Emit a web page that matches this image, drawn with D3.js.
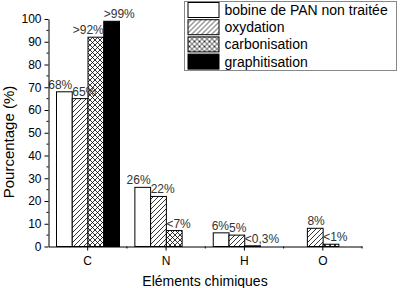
<!DOCTYPE html>
<html>
<head>
<meta charset="utf-8">
<script src="https://cdn.jsdelivr.net/npm/d3@7"></script>
<style>
  body { margin: 0; background: #fff; }
  text { font-family: "Liberation Sans", Arial, sans-serif; fill: #000; }
</style>
</head>
<body>
<script>
// elements on the x axis and the four treatment steps
const elements = ["C", "N", "H", "O"];
const steps = ["bobine de PAN non traitée", "oxydation", "carbonisation", "graphitisation"];

// percentages per step, one value per element
const pan   = [68, 26, 6, 0];
const oxy   = [65, 22, 5, 8];
const carbo = [92, 7, 0.3, 1];
const graph = [99, 0, 0, 0];

// labels written above the bars
const panLbl   = ["68%", "26%", "6%", ""];
const oxyLbl   = ["65%", "22%", "5%", "8%"];
const carboLbl = [">92%", "<7%", "<0,3%", "<1%"];
const graphLbl = [">99%", "", "", ""];

const yTicks = [0, 10, 20, 30, 40, 50, 60, 70, 80, 90, 100];

const width = 406, height = 288;
const series = [pan, oxy, carbo, graph];
const labels = [panLbl, oxyLbl, carboLbl, graphLbl];
const fills = ["#fff", "url(#hatch)", "url(#cross)", "#000"];

const svg = d3.select("body").append("svg").attr("width", width).attr("height", height);

const defs = svg.append("defs");
const hatch = defs.append("pattern").attr("id", "hatch")
    .attr("patternUnits", "userSpaceOnUse").attr("width", 5).attr("height", 5);
hatch.append("rect").attr("width", 5).attr("height", 5).attr("fill", "#fff");
hatch.append("path").attr("d", "M-1,1 l2,-2 M0,5 l5,-5 M4,6 l2,-2")
    .attr("stroke", "#000").attr("stroke-width", 0.8);

const cross = defs.append("pattern").attr("id", "cross")
    .attr("patternUnits", "userSpaceOnUse").attr("width", 5).attr("height", 5);
cross.append("rect").attr("width", 5).attr("height", 5).attr("fill", "#fff");
cross.append("path").attr("d", "M-1,1 l2,-2 M0,5 l5,-5 M4,6 l2,-2 M-1,4 l2,2 M0,0 l5,5 M4,-1 l2,2")
    .attr("stroke", "#000").attr("stroke-width", 0.8);

const x = d3.scaleBand().domain(elements).range([48.5, 362]);
const xs = d3.scaleBand().domain(d3.range(steps.length)).range([8, 71]);
const y = d3.scaleLinear().domain([0, 100]).range([246.5, 19]);

// bars
const rows = [];
series.forEach((vals, s) => vals.forEach((v, i) => rows.push({ s, i, el: elements[i], v, lbl: labels[s][i] })));

svg.append("g").selectAll("rect")
    .data(rows.filter(d => d.v > 0)).enter()
    .append("rect")
    .attr("x", d => x(d.el) + xs(d.s))
    .attr("y", d => y(d.v))
    .attr("width", xs.bandwidth())
    .attr("height", d => y(0) - y(d.v))
    .attr("fill", d => fills[d.s])
    .attr("stroke", "#000")
    .attr("stroke-width", 1);

// a label ends at the bar's right edge when the bar before it is not taller and
// (it is the first bar or a taller bar follows); otherwise it starts at the left edge
const endAnchored = d => {
    const prevTaller = d.s > 0 && series[d.s - 1][d.i] > d.v;
    const nextTaller = d.s < series.length - 1 && series[d.s + 1][d.i] > d.v;
    return !prevTaller && (d.s === 0 || nextTaller);
};

svg.append("g").selectAll("text")
    .data(rows.filter(d => d.lbl)).enter()
    .append("text")
    .attr("x", d => endAnchored(d) ? x(d.el) + xs(d.s) + xs.bandwidth() : x(d.el) + xs(d.s))
    .attr("y", d => y(d.v) - 3)
    .attr("text-anchor", d => endAnchored(d) ? "end" : "start")
    .attr("font-size", 12)
    .style("fill", "#333")
    .text(d => d.lbl);

// y axis
const yAxis = svg.append("g").attr("transform", "translate(48.5,0)")
    .call(d3.axisLeft(y).tickValues(yTicks).tickSize(4).tickPadding(3).tickSizeOuter(0));
yAxis.append("g").selectAll("line")
    .data(d3.range(5, 100, 10)).enter()
    .append("line").attr("x1", -2).attr("x2", 0)
    .attr("y1", d => y(d)).attr("y2", d => y(d)).attr("stroke", "#000");

// x axis
const xAxis = svg.append("g").attr("transform", "translate(0,246.5)")
    .call(d3.axisBottom(x).tickSize(4).tickPadding(6).tickSizeOuter(0));
xAxis.append("g").selectAll("line")
    .data(elements.slice(1).map(e => x(e)).concat([x.range()[1]])).enter()
    .append("line").attr("x1", d => d).attr("x2", d => d)
    .attr("y1", 0).attr("y2", 2).attr("stroke", "#000");

svg.selectAll(".tick text").attr("font-size", 12).attr("font-family", "Liberation Sans, Arial, sans-serif");
svg.selectAll(".domain").attr("stroke", "#000");

// axis titles
svg.append("text")
    .attr("x", 205).attr("y", 285.5)
    .attr("text-anchor", "middle").attr("font-size", 14)
    .text("Eléments chimiques");

svg.append("text")
    .attr("transform", "translate(14,142) rotate(-90)")
    .attr("text-anchor", "middle").attr("font-size", 15)
    .text("Pourcentage (%)");

// legend
const legend = svg.append("g").attr("transform", "translate(184.5,1.5)");
legend.append("rect").attr("width", 212).attr("height", 69)
    .attr("fill", "#fff").attr("stroke", "#888");
steps.forEach((name, s) => {
    legend.append("rect")
        .attr("x", 3.5).attr("y", 1 + s * 17.2)
        .attr("width", 31).attr("height", 15)
        .attr("fill", fills[s]).attr("stroke", "#000");
    legend.append("text")
        .attr("x", 40).attr("y", 13.5 + s * 17.2)
        .attr("font-size", 14)
        .text(name);
});
</script>
</body>
</html>
